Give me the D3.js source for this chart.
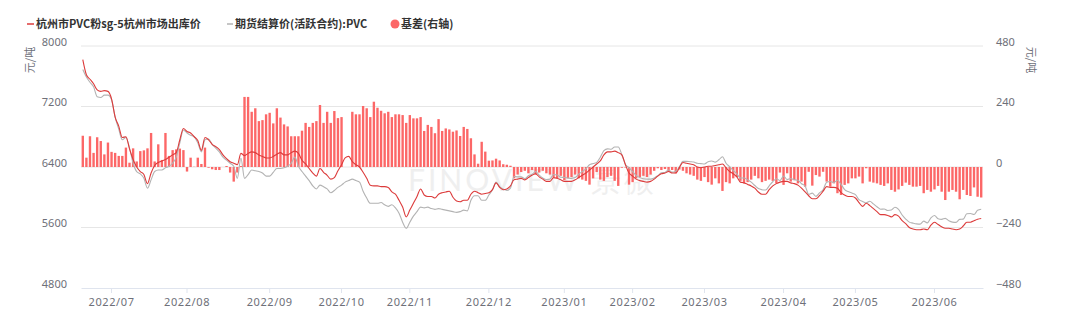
<!DOCTYPE html>
<html>
<head>
<meta charset="utf-8">
<script src="https://cdnjs.cloudflare.com/ajax/libs/d3/7.8.5/d3.min.js"></script>
<style>
body { margin: 0; background: #fff; }
svg { display: block; font-family: "Noto Sans CJK SC", "Noto Sans", sans-serif; }
</style>
</head>
<body>
<div id="chart-area"></div>
<script>
// 杭州市PVC粉sg-5杭州市场出库价 (left axis)
var spot = [
 7820,7620,7560,7500,7420,7400,7410,7400,7300,7060,
 6940,6790,6800,6640,6500,6400,6340,6300,6180,6320,
 6420,6460,6480,6500,6530,6560,6590,6760,6910,6870,
 6850,6800,6750,6620,6790,6760,6700,6670,6630,6560,
 6510,6470,6450,6430,6580,6550,6580,6600,6590,6560,
 6540,6520,6520,6540,6570,6590,6560,6560,6590,6610,
 6580,6490,6440,6380,6320,6280,6380,6330,6290,6240,
 6260,6350,6430,6520,6540,6470,6430,6400,6330,6250,
 6160,6150,6150,6140,6140,6130,6070,6040,5960,5870,
 5740,5830,5920,6010,6110,6030,6010,6010,5990,6040,
 6060,6070,6080,6000,5950,5940,5960,5960,6040,6080,
 6060,6040,6050,6060,6100,6190,6130,6100,6110,6150,
 6230,6240,6250,6230,6260,6290,6310,6270,6240,6210,
 6210,6260,6250,6230,6210,6210,6210,6230,6260,6290,
 6320,6360,6400,6440,6480,6560,6600,6600,6610,6590,
 6560,6430,6320,6280,6240,6220,6210,6200,6210,6240,
 6280,6310,6320,6340,6320,6320,6390,6460,6450,6440,
 6430,6400,6390,6400,6410,6410,6420,6430,6440,6390,
 6340,6310,6270,6200,6190,6170,6150,6120,6070,6040,
 6040,6100,6150,6180,6200,6210,6210,6190,6180,6160,
 6120,6070,6020,5980,5980,6020,6080,6140,6130,6130,
 6120,6060,6030,6010,6010,5990,5930,5880,5920,5890,
 5850,5810,5770,5770,5760,5740,5770,5750,5690,5650,
 5600,5580,5570,5570,5580,5570,5630,5670,5640,5610,
 5590,5590,5580,5570,5580,5620,5670,5670,5690,5710,
 5720
];

// 期货结算价(活跃合约):PVC (left axis)
var futures = [
 7690,7590,7520,7460,7330,7320,7350,7350,7290,7060,
 6900,6760,6790,6650,6450,6340,6310,6250,6120,6230,
 6340,6360,6360,6390,6410,6450,6530,6720,6890,6850,
 6820,6800,6720,6600,6760,6770,6700,6650,6600,6530,
 6490,6450,6410,6250,6520,6250,6300,6360,6350,6340,
 6320,6280,6280,6330,6380,6380,6390,6410,6450,6530,
 6410,6340,6280,6220,6150,6110,6160,6140,6110,6060,
 6090,6130,6160,6200,6220,6240,6220,6200,6080,5990,
 5920,5920,5920,5930,5900,5880,5900,5860,5790,5670,
 5590,5670,5750,5810,5870,5860,5870,5850,5840,5850,
 5840,5830,5820,5810,5800,5810,5830,5820,5960,6020,
 6020,5960,5960,6030,6100,6200,6140,6110,6090,6120,
 6275,6270,6270,6245,6285,6302,6340,6292,6255,6235,
 6240,6300,6295,6265,6262,6255,6250,6260,6305,6340,
 6375,6430,6445,6460,6530,6615,6640,6635,6665,6665,
 6563,6432,6390,6340,6285,6260,6245,6240,6240,6255,
 6285,6322,6328,6360,6332,6345,6400,6475,6475,6470,
 6465,6450,6445,6440,6470,6480,6465,6495,6535,6450,
 6405,6355,6310,6255,6255,6230,6200,6155,6115,6100,
 6095,6150,6205,6245,6222,6281,6235,6248,6232,6225,
 6178,6148,6039,6054,6012,6058,6099,6198,6208,6195,
 6224,6171,6101,6075,6055,6035,5968,5945,5925,5948,
 5912,5875,5841,5845,5825,5831,5868,5839,5765,5712,
 5671,5658,5648,5645,5684,5661,5728,5759,5715,5708,
 5721,5688,5671,5668,5708,5711,5781,5785,5771,5828,
 5841
];

// 基差 (right axis)
var basis = [
 124,37,122,56,118,103,50,97,60,56,
 44,44,77,17,74,22,63,66,74,135,
 22,90,28,135,44,67,70,73,67,-18,
 37,1,37,12,77,-3,-9,-12,-12,0,
 4,-22,-58,-22,4,278,278,219,233,182,
 186,209,215,173,233,196,169,161,122,122,
 122,144,175,159,175,182,246,175,219,175,
 222,194,198,null,null,219,209,209,242,233,
 198,259,235,223,213,219,198,209,209,206,
 175,206,193,193,198,143,167,159,134,190,
 143,153,149,140,145,123,159,151,114,50,
 13,100,61,25,26,33,26,11,9,5,
 -45,-30,-20,-15,-25,-12,-30,-22,-15,-25,
 -30,-40,-45,-35,-52,-45,-40,-30,-45,-50,
 -55,-70,-45,-20,-50,-55,-40,-35,-55,-75,
 -3,-2,-70,-60,-45,-40,-35,-40,-30,-15,
 -5,-12,-8,-20,-12,-25,-10,-15,-25,-30,
 -35,-50,-55,-40,-60,-70,-45,-65,-95,-60,
 -65,-45,-40,-55,-65,-60,-50,-35,-45,-60,
 -55,-50,-55,-65,-22,-71,-25,-58,-52,-65,
 -58,-78,-19,-74,-32,-38,-19,-58,-78,-65,
 -104,-111,-71,-65,-45,-45,-38,-65,-5,-58,
 -62,-65,-71,-75,-65,-91,-98,-89,-75,-62,
 -71,-78,-78,-75,-104,-91,-98,-89,-75,-98,
 -131,-98,-91,-98,-128,-91,-111,-115,-81,-118,
 -121
];

var monthLabels = ["2022/07","2022/08","2022/09","2022/10","2022/11","2022/12",
                   "2023/01","2023/02","2023/03","2023/04","2023/05","2023/06"];
var monthIndex = [8, 29, 52, 72, 91, 113, 134, 153, 173, 195, 215, 237];

var leftTicks = [4800, 5600, 6400, 7200, 8000];
var rightTicks = [-480, -240, 0, 240, 480];

var seriesNames = ["杭州市PVC粉sg-5杭州市场出库价", "期货结算价(活跃合约):PVC", "基差(右轴)"];

var margin = { left: 81, right: 97, top: 46, bottom: 26 };
var width = 1080 - margin.left - margin.right,
    height = 314 - margin.top - margin.bottom;

var svg = d3.select("#chart-area")
    .append("svg")
        .attr("width", 1080)
        .attr("height", 314);

var g = svg.append("g")
    .attr("transform", "translate(" + margin.left + ", " + margin.top + ")");

// Scales
var x = d3.scaleBand()
    .domain(d3.range(spot.length))
    .range([0, width]);

var yL = d3.scaleLinear().domain([4800, 8000]).range([height, 0]);
var yR = d3.scaleLinear().domain([-480, 480]).range([height, 0]);

function cx(i) { return x(i) + x.bandwidth() / 2; }

// Watermark
g.append("text")
    .attr("x", 327)
    .attr("y", 145)
    .attr("font-size", "30px")
    .attr("font-family", "Lato, 'Noto Sans', sans-serif")
    .attr("fill", "#efefef")
    .attr("letter-spacing", "3px")
    .text("FINOVIEW 景微");

// Grid lines
g.selectAll("line.grid")
    .data(leftTicks.slice(1))
    .enter().append("line")
        .attr("class", "grid")
        .attr("x1", 0)
        .attr("x2", width)
        .attr("y1", function(d){ return yL(d); })
        .attr("y2", function(d){ return yL(d); })
        .attr("stroke", "#e6e6e6")
        .attr("stroke-width", 1);

// Bars (basis, right axis)
var barW = x.step() * 0.66;
g.selectAll("rect.bar")
    .data(basis.map(function(v, i){ return { i: i, v: v }; })
        .filter(function(d){ return d.v !== null; }))
    .enter().append("rect")
        .attr("class", "bar")
        .attr("x", function(d){ return cx(d.i) - barW / 2; })
        .attr("width", barW)
        .attr("y", function(d){ return yR(Math.max(0, d.v)); })
        .attr("height", function(d){ return Math.abs(yR(d.v) - yR(0)); })
        .attr("fill", "#fc6767");

// Lines
var lineL = d3.line()
    .x(function(d, i){ return cx(i); })
    .y(function(d){ return yL(d); })
    .curve(d3.curveMonotoneX);

g.append("path")
    .datum(futures)
    .attr("fill", "none")
    .attr("stroke", "#b3b3b3")
    .attr("stroke-width", 1.1)
    .attr("d", lineL);

g.append("path")
    .datum(spot)
    .attr("fill", "none")
    .attr("stroke", "#dc3b3b")
    .attr("stroke-width", 1.1)
    .attr("d", lineL);

// X Axis
var xAxisCall = d3.axisBottom(x)
    .tickValues(monthIndex)
    .tickFormat(function(d, k){ return monthLabels[k]; })
    .tickSize(5)
    .tickSizeOuter(0)
    .tickPadding(5);
var xAxisGroup = g.append("g")
    .attr("transform", "translate(0," + height + ")")
    .call(xAxisCall);
xAxisGroup.select(".domain").attr("stroke", "#dfe4ee");
xAxisGroup.selectAll(".tick line").attr("stroke", "#dfe4ee");
xAxisGroup.selectAll(".tick text")
    .attr("fill", "#6e7079")
    .attr("font-size", "11px")
    .attr("font-family", "'Noto Sans', sans-serif")
    .attr("letter-spacing", "0.6px");

// Y Axes
var yAxisL = g.append("g")
    .call(d3.axisLeft(yL).tickValues(leftTicks).tickFormat(d3.format("d"))
        .tickSize(0).tickPadding(14));
yAxisL.select(".domain").remove();
yAxisL.selectAll(".tick text")
    .attr("dy", "-0.05em")
    .attr("fill", "#6e7079")
    .attr("font-size", "11px")
    .attr("font-family", "'Noto Sans', sans-serif");

var yAxisR = g.append("g")
    .attr("transform", "translate(" + width + ",0)")
    .call(d3.axisRight(yR).tickValues(rightTicks).tickFormat(d3.format("d"))
        .tickSize(0).tickPadding(13));
yAxisR.select(".domain").remove();
yAxisR.selectAll(".tick text")
    .attr("dy", "-0.05em")
    .attr("fill", "#6e7079")
    .attr("font-size", "11px")
    .attr("font-family", "'Noto Sans', sans-serif");

// Axis names
svg.append("text")
    .attr("transform", "translate(34,60) rotate(-90)")
    .attr("text-anchor", "middle")
    .attr("font-size", "11px")
    .attr("fill", "#6e7079")
    .text("元/吨");

svg.append("text")
    .attr("transform", "translate(1027,60) rotate(90)")
    .attr("text-anchor", "middle")
    .attr("font-size", "11px")
    .attr("fill", "#6e7079")
    .text("元/吨");

// Legend
var legend = svg.append("g").attr("font-size", "11px").attr("font-weight", "bold").attr("fill", "#333");

legend.append("line")
    .attr("x1", 27).attr("x2", 34).attr("y1", 24).attr("y2", 24)
    .attr("stroke", "#dc3b3b").attr("stroke-width", 1.5);
legend.append("text").attr("x", 36).attr("y", 28).text(seriesNames[0]);

legend.append("line")
    .attr("x1", 227).attr("x2", 233).attr("y1", 24).attr("y2", 24)
    .attr("stroke", "#b3b3b3").attr("stroke-width", 1.5);
legend.append("text").attr("x", 235).attr("y", 28).text(seriesNames[1]);

legend.append("circle")
    .attr("cx", 395).attr("cy", 24).attr("r", 4.5)
    .attr("fill", "#fc6767");
legend.append("text").attr("x", 401).attr("y", 28).text(seriesNames[2]);
</script>
</body>
</html>
